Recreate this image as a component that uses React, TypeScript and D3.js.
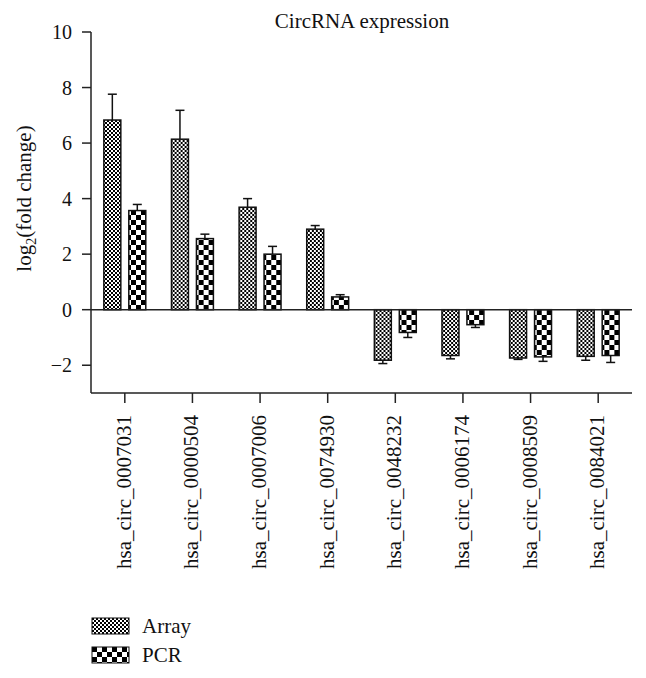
import React from 'react';
import * as d3 from 'd3';

// ─── data ───
const categories = [
  'hsa_circ_0007031', 'hsa_circ_0000504', 'hsa_circ_0007006', 'hsa_circ_0074930',
  'hsa_circ_0048232', 'hsa_circ_0006174', 'hsa_circ_0008509', 'hsa_circ_0084021',
];
const series = ['Array', 'PCR'];
const arrayValues = [6.83, 6.14, 3.69, 2.90, -1.82, -1.65, -1.74, -1.68];
const arrayErrors = [0.93, 1.04, 0.31, 0.13, 0.12, 0.12, 0.05, 0.14];
const pcrValues = [3.57, 2.56, 2.00, 0.46, -0.82, -0.54, -1.70, -1.65];
const pcrErrors = [0.22, 0.16, 0.28, 0.08, 0.18, 0.10, 0.16, 0.25];
const yTicks = [-2, 0, 2, 4, 6, 8, 10];

const W = 646;
const H = 678;
const FONT = '"Liberation Serif", "Times New Roman", serif';

const x = d3.scaleBand<string>().domain(categories).range([91, 632]).padding(0);
const bw = x.bandwidth();
const x1 = d3.scaleBand<string>().domain(series).range([bw * 0.19, bw * 0.81]).paddingInner(0.32);
const y = d3.scaleLinear().domain([-3, 10]).range([393, 32]);
const fmt = d3.format('d');

const fills: Record<string, string> = { Array: 'url(#patArray)', PCR: 'url(#patPCR)' };
const valuesOf: Record<string, number[]> = { Array: arrayValues, PCR: pcrValues };
const errorsOf: Record<string, number[]> = { Array: arrayErrors, PCR: pcrErrors };

export default function App() {
  const x0 = x.range()[0];
  const x9 = x.range()[1];
  return (
    <svg width={W} height={H} style={{ position: 'absolute', left: 0, top: 0, background: '#fff' }}
      fontFamily={FONT}>
      <defs>
        <pattern id="patArray" patternUnits="userSpaceOnUse" width={4} height={4}>
          <rect width={4} height={4} fill="#fff" />
          <rect width={2} height={2} fill="#000" />
          <rect x={2} y={2} width={2} height={2} fill="#000" />
        </pattern>
        <pattern id="patPCR" patternUnits="userSpaceOnUse" width={10} height={10}>
          <rect width={10} height={10} fill="#fff" />
          <rect width={5} height={5} fill="#000" />
          <rect x={5} y={5} width={5} height={5} fill="#000" />
        </pattern>
      </defs>

      {/* title */}
      <text x={362} y={28} fontSize={21} textAnchor="middle" fill="#111">CircRNA expression</text>

      {/* y label */}
      <text transform={`translate(31,${(y(10) + y(-3)) / 2 - 14}) rotate(-90)`} fontSize={21}
        textAnchor="middle" fill="#111">
        log<tspan fontSize={14} dy={5}>2</tspan><tspan dy={-5}>(fold change)</tspan>
      </text>

      {/* bars */}
      {categories.map((c, i) => (
        <g key={c} transform={`translate(${x(c)},0)`}>
          {series.map(s => {
            const v = valuesOf[s][i];
            const e = errorsOf[s][i];
            const bx = x1(s)!;
            const cx = bx + x1.bandwidth() / 2;
            const top = Math.min(y(v), y(0));
            const ht = Math.abs(y(v) - y(0));
            const tip = y(v + Math.sign(v) * e);
            return (
              <g key={s}>
                <line x1={cx} x2={cx} y1={y(v)} y2={tip} stroke="#111" strokeWidth={1.5} />
                <line x1={cx - 4.5} x2={cx + 4.5} y1={tip} y2={tip} stroke="#111" strokeWidth={1.5} />
                <rect x={bx} y={top} width={x1.bandwidth()} height={ht}
                  fill={fills[s]} stroke="#111" strokeWidth={1.5} />
              </g>
            );
          })}
        </g>
      ))}

      {/* zero line */}
      <line x1={x0} x2={x9} y1={y(0)} y2={y(0)} stroke="#222" strokeWidth={1.5} />

      {/* y axis */}
      <line x1={x0} x2={x0} y1={y(10)} y2={y(-3)} stroke="#222" strokeWidth={1.5} />
      {yTicks.map(t => (
        <g key={t}>
          <line x1={x0 - 9} x2={x0} y1={y(t)} y2={y(t)} stroke="#222" strokeWidth={1.5} />
          <text x={x0 - 19} y={y(t) + 7} fontSize={20} textAnchor="end" fill="#111">
            {fmt(t)}
          </text>
        </g>
      ))}

      {/* x axis */}
      <line x1={x0} x2={x9} y1={y(-3)} y2={y(-3)} stroke="#222" strokeWidth={1.5} />
      {categories.map(c => {
        const cx = x(c)! + bw / 2;
        return (
          <g key={c}>
            <line x1={cx} x2={cx} y1={y(-3)} y2={y(-3) + 10} stroke="#222" strokeWidth={1.5} />
            <text transform={`translate(${cx + 6},${y(-3) + 22}) rotate(-90)`} fontSize={21}
              textAnchor="end" fill="#111">{c}</text>
          </g>
        );
      })}

      {/* legend */}
      {series.map((s, i) => (
        <g key={s} transform={`translate(92,${618 + i * 29})`}>
          <rect width={37} height={16} fill={fills[s]} stroke="#111" strokeWidth={1} />
          <text x={50} y={15} fontSize={21} fill="#111">{s}</text>
        </g>
      ))}
    </svg>
  );
}
